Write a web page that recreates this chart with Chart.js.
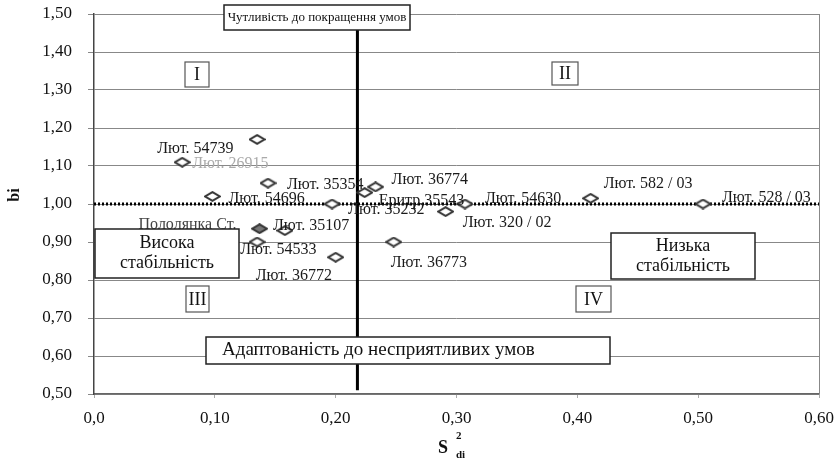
<!DOCTYPE html>
<html>
<head>
<meta charset="utf-8">
<script src="https://cdn.jsdelivr.net/npm/chart.js@4.4.1/dist/chart.umd.min.js"></script>
<style>
    html, body { margin: 0; padding: 0; background: #fff; }
    #wrap { width: 834px; height: 462px; }
</style>
</head>
<body>
<div id="wrap"><canvas id="stabChart" width="834" height="462"></canvas></div>
<script>
// data
const varieties = ['Лют. 26915', 'Лют. 54739', 'Лют. 35354', 'Лют. 54696', 'Лют. 35232', 'Еритр.35543',
    'Лют. 36774', 'Лют. 320 / 02', 'Лют. 54630', 'Лют. 36773', 'Лют. 36772', 'Лют. 35107',
    'Пололянка Ст.', 'Лют. 54533', 'Лют. 582 / 03', 'Лют. 528 / 03'];
const s2di = [0.073, 0.135, 0.144, 0.098, 0.197, 0.224, 0.233, 0.291, 0.307, 0.248, 0.200, 0.158, 0.137, 0.135, 0.411, 0.504];
const bi = [1.11, 1.17, 1.055, 1.02, 1.00, 1.03, 1.045, 0.98, 1.00, 0.90, 0.86, 0.93, 0.935, 0.90, 1.015, 1.00];
const xTickLabels = ['0,0', '0,10', '0,20', '0,30', '0,40', '0,50', '0,60'];
const yTickLabels = ['0,50', '0,60', '0,70', '0,80', '0,90', '1,00', '1,10', '1,20', '1,30', '1,40', '1,50'];
const standardName = 'Пололянка Ст.';
const dividerS2 = 0.218;
const meanBi = 1.0;

// label placement (pixels from the point)
const labelOffsets = [[10, 2], [-100, 9], [19, 2], [16, 2], [16, 6], [14, 8], [16, -7], [17, 11],
    [20, -5], [-3, 21], [-80, 19], [-12, -5], [-121, -4], [-17, 8], [13, -15], [19, -6]];

const serif = "'Liberation Serif', 'DejaVu Serif', serif";

function makeDiamond(fill) {
    const c = document.createElement('canvas');
    c.width = 17; c.height = 11;
    const g = c.getContext('2d');
    g.beginPath();
    g.moveTo(8.5, 1.2); g.lineTo(15.8, 5.5); g.lineTo(8.5, 9.8); g.lineTo(1.2, 5.5); g.closePath();
    g.fillStyle = fill; g.fill();
    g.lineWidth = 2; g.strokeStyle = '#333'; g.stroke();
    return c;
}
const openDiamond = makeDiamond('#fff');
const fullDiamond = makeDiamond('#777');

const boxes = [
    { x1: 224, y1: 5, x2: 410, y2: 30, lines: ['Чутливість до покращення умов'], size: 13, align: 'center' },
    { x1: 206, y1: 337, x2: 610, y2: 364, lines: ['Адаптованість до несприятливих умов'], size: 19, align: 'left', tx: 222 },
    { x1: 95, y1: 229, x2: 239, y2: 278, lines: ['Висока', 'стабільність'], size: 18, align: 'center' },
    { x1: 611, y1: 233, x2: 755, y2: 279, lines: ['Низька', 'стабільність'], size: 18, align: 'center' }
];
const romans = [
    { x1: 185, y1: 62, x2: 209, y2: 87, text: 'I' },
    { x1: 552, y1: 62, x2: 578, y2: 85, text: 'II' },
    { x1: 186, y1: 286, x2: 209, y2: 312, text: 'III' },
    { x1: 576, y1: 286, x2: 611, y2: 312, text: 'IV' }
];

const decorPlugin = {
    id: 'decor',
    beforeDatasetsDraw(chart) {
        const { ctx, chartArea: a } = chart;
        ctx.save();
        ctx.strokeStyle = '#888';
        ctx.lineWidth = 1;
        ctx.beginPath();
        ctx.moveTo(a.right + 0.5, a.top);
        ctx.lineTo(a.right + 0.5, a.bottom);
        ctx.stroke();
        ctx.restore();
    },
    afterDatasetsDraw(chart) {
        const { ctx } = chart;
        const meta = chart.getDatasetMeta(0);
        ctx.save();

        // point labels
        ctx.font = '16px ' + serif;
        ctx.textBaseline = 'middle';
        ctx.textAlign = 'left';
        meta.data.forEach((pt, i) => {
            const off = labelOffsets[i];
            ctx.fillStyle = i === 0 ? '#aaa' : (varieties[i] === standardName ? '#444' : '#1a1a1a');
            ctx.fillText(varieties[i], pt.x + off[0], pt.y + off[1]);
        });

        // text boxes
        boxes.forEach(b => {
            ctx.fillStyle = '#fff';
            ctx.fillRect(b.x1, b.y1, b.x2 - b.x1, b.y2 - b.y1);
            ctx.strokeStyle = '#222';
            ctx.lineWidth = 1.5;
            ctx.strokeRect(b.x1, b.y1, b.x2 - b.x1, b.y2 - b.y1);
            ctx.fillStyle = '#111';
            ctx.font = b.size + 'px ' + serif;
            ctx.textAlign = b.align;
            const tx = b.align === 'center' ? (b.x1 + b.x2) / 2 : b.tx;
            const lh = b.size + 2;
            const cy = (b.y1 + b.y2) / 2;
            b.lines.forEach((ln, k) => {
                ctx.fillText(ln, tx, cy + (k - (b.lines.length - 1) / 2) * lh);
            });
        });

        romans.forEach(r => {
            ctx.fillStyle = '#fff';
            ctx.fillRect(r.x1, r.y1, r.x2 - r.x1, r.y2 - r.y1);
            ctx.strokeStyle = '#555';
            ctx.lineWidth = 1.2;
            ctx.strokeRect(r.x1, r.y1, r.x2 - r.x1, r.y2 - r.y1);
            ctx.fillStyle = '#111';
            ctx.font = '18px ' + serif;
            ctx.textAlign = 'center';
            ctx.fillText(r.text, (r.x1 + r.x2) / 2, (r.y1 + r.y2) / 2 + 1);
        });

        // axis titles
        ctx.fillStyle = '#111';
        ctx.save();
        ctx.translate(15, 195);
        ctx.rotate(-Math.PI / 2);
        ctx.font = 'bold 16px ' + serif;
        ctx.textAlign = 'center';
        ctx.fillText('bi', 0, 0);
        ctx.restore();

        ctx.textAlign = 'left';
        ctx.textBaseline = 'alphabetic';
        ctx.font = 'bold 18px ' + serif;
        ctx.fillText('S', 438, 453);
        ctx.font = 'bold 11px ' + serif;
        ctx.fillText('2', 456, 439);
        ctx.fillText('di', 456, 458);
        ctx.restore();
    }
};

const ctx = document.getElementById('stabChart').getContext('2d');
new Chart(ctx, {
    type: 'scatter',
    data: {
        datasets: [
            {
                label: 'bi',
                data: s2di.map((v, i) => ({ x: v, y: bi[i] })),
                pointStyle: varieties.map(n => n === standardName ? fullDiamond : openDiamond),
                pointRadius: 6,
                order: 0
            },
            {
                label: 'divider',
                type: 'line',
                data: [{ x: dividerS2, y: 1.5 }, { x: dividerS2, y: 0.51 }],
                borderColor: '#000',
                borderWidth: 3,
                pointRadius: 0,
                order: 2
            },
            {
                label: 'mean',
                type: 'line',
                data: [{ x: 0, y: meanBi }, { x: 0.6, y: meanBi }],
                borderColor: '#000',
                borderWidth: 3,
                borderDash: [2, 2],
                pointRadius: 0,
                order: 1
            }
        ]
    },
    options: {
        responsive: false,
        animation: false,
        devicePixelRatio: 1,
        layout: { padding: { top: 14, right: 15, left: 0, bottom: 0 } },
        plugins: {
            legend: { display: false },
            tooltip: { enabled: false }
        },
        scales: {
            x: {
                type: 'linear',
                min: 0,
                max: 0.6,
                afterFit: s => { s.height = 68; s.paddingLeft = 0; s.paddingRight = 0; },
                afterBuildTicks: s => { s.ticks = xTickLabels.map((t, i) => ({ value: i / 10 })); },
                ticks: {
                    callback: (v, i) => xTickLabels[i],
                    font: { family: serif, size: 17 },
                    color: '#111',
                    padding: 10,
                    maxRotation: 0
                },
                grid: { display: true, drawOnChartArea: false, tickLength: 4, color: '#aaa' },
                border: { display: true, color: '#666', width: 1.5 }
            },
            y: {
                min: 0.5,
                max: 1.5,
                afterFit: s => { s.width = 94; s.paddingTop = 0; s.paddingBottom = 0; },
                afterBuildTicks: s => { s.ticks = yTickLabels.map((t, i) => ({ value: 0.5 + i / 10 })); },
                ticks: {
                    callback: (v, i) => yTickLabels[i],
                    font: { family: serif, size: 17 },
                    color: '#111',
                    padding: 16
                },
                grid: { color: '#888', lineWidth: 1, tickLength: 6 },
                border: { display: true, color: '#444', width: 1.5 }
            }
        }
    },
    plugins: [decorPlugin]
});
</script>
</body>
</html>
